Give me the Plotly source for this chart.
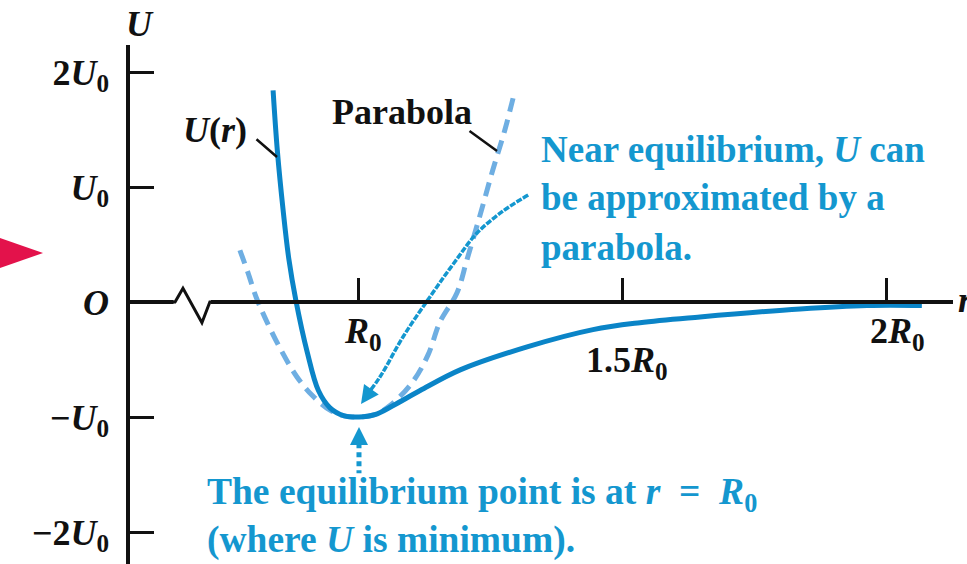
import plotly.graph_objects as go

# Potential energy curve U(r), in units of U0 versus R0
r_u = [0.837, 0.845, 0.856, 0.867, 0.880, 0.902, 0.923, 0.945, 0.972, 1.000,
       1.030, 1.065, 1.116, 1.192, 1.319, 1.444, 1.533, 1.647, 1.837, 1.964, 2.068]
u_u = [1.84, 1.32, 0.80, 0.37, 0.02, -0.44, -0.77, -0.92, -0.99, -1.00,
       -0.98, -0.90, -0.77, -0.59, -0.39, -0.24, -0.18, -0.13, -0.06, -0.03, -0.03]

# Parabola approximating U near the minimum
r_par = [0.774, 0.789, 0.805, 0.822, 0.850, 0.882, 0.913, 0.945, 0.972, 1.000,
         1.030, 1.059, 1.101, 1.131, 1.154, 1.186, 1.205, 1.230, 1.254, 1.277, 1.296]
u_par = [0.45, 0.26, 0.04, -0.14, -0.40, -0.65, -0.82, -0.94, -0.99, -1.00,
         -0.98, -0.90, -0.70, -0.46, -0.17, 0.08, 0.37, 0.76, 1.15, 1.50, 1.84]

# Callout path from the "near equilibrium" note to the minimum
r_call = [1.321, 1.273, 1.224, 1.182, 1.140, 1.084, 1.040, 1.008]
u_call = [0.93, 0.79, 0.60, 0.35, 0.08, -0.30, -0.65, -0.85]

# Dotted pointer below the minimum
r_ptr = [1.0, 1.0]
u_ptr = [-1.15, -1.49]

y_ticks = [-2, -1, 0, 1, 2]
y_labels = ["<b>−2<i>U</i><sub>0</sub></b>", "<b>−<i>U</i><sub>0</sub></b>", "<b><i>O</i></b>",
            "<b><i>U</i><sub>0</sub></b>", "<b>2<i>U</i><sub>0</sub></b>"]
x_ticks = [1.0, 1.5, 2.0]
x_labels = ["<b><i>R</i><sub>0</sub></b>", "<b>1.5<i>R</i><sub>0</sub></b>", "<b>2<i>R</i><sub>0</sub></b>"]
x_label_u = [-0.27, -0.53, -0.27]
x_label_r = [1.008, 1.509, 2.021]

CURVE = "#0a84c7"
PARAB = "#6eaee2"
NOTE = "#1497cf"
INK = "#111111"
SERIF = "Liberation Serif, Times New Roman, DejaVu Serif, serif"

W, H = 967, 564
x_range = [0.5617, 2.1271]
y_range = [-2.2783, 2.2348]
x_dom = [128 / W, 953 / W]
y_dom = [0.0, 1 - 45 / H]
x_axis_pos = y_dom[1] * (0 - y_range[0]) / (y_range[1] - y_range[0])

fig = go.Figure()

fig.add_trace(go.Scatter(x=r_par, y=u_par, mode="lines",
                         line=dict(color=PARAB, width=5, dash="14px,8px", shape="spline", smoothing=1),
                         hoverinfo="skip"))
fig.add_trace(go.Scatter(x=r_u, y=u_u, mode="lines",
                         line=dict(color=CURVE, width=5, shape="spline", smoothing=1),
                         hoverinfo="skip"))
fig.add_trace(go.Scatter(x=r_call, y=u_call, mode="lines",
                         line=dict(color=NOTE, width=3.5, dash="6px,1.5px", shape="spline", smoothing=1),
                         hoverinfo="skip"))
fig.add_trace(go.Scatter(x=r_ptr, y=u_ptr, mode="lines",
                         line=dict(color=NOTE, width=5, dash="5px,4px"),
                         hoverinfo="skip"))

annotations = []
# x tick labels
for xv, yv, t in zip(x_label_r, x_label_u, x_labels):
    annotations.append(dict(x=xv, y=yv, xref="x", yref="y", text=t, showarrow=False,
                            font=dict(family=SERIF, size=36, color=INK)))

# axis titles
annotations.append(dict(x=124 / W, y=1 - 2 / H, xref="paper", yref="paper", yanchor="top",
                        text="<b><i>U</i></b>", showarrow=False,
                        font=dict(family=SERIF, size=36, color=INK)))
annotations.append(dict(x=956 / W, y=1 - 300 / H, xref="paper", yref="paper", xanchor="left",
                        text="<b><i>r</i></b>", showarrow=False,
                        font=dict(family=SERIF, size=36, color=INK)))

# curve labels with leader lines
annotations.append(dict(x=0.7268, y=1.496, xref="x", yref="y", text="<b><i>U</i>(<i>r</i>)</b>",
                        showarrow=False, font=dict(family=SERIF, size=36, color=INK)))
annotations.append(dict(x=0.8444, y=1.261, xref="x", yref="y", text="", showarrow=True,
                        ax=-22, ay=-19, arrowhead=0, arrowwidth=2.5, arrowcolor=INK))
annotations.append(dict(x=1.0816, y=1.652, xref="x", yref="y", text="<b>Parabola</b>",
                        showarrow=False, font=dict(family=SERIF, size=36, color=INK)))
annotations.append(dict(x=1.2619, y=1.313, xref="x", yref="y", text="", showarrow=True,
                        ax=-29, ay=-21, arrowhead=0, arrowwidth=2.5, arrowcolor=INK))

# explanatory notes
note_lines = ["<b>Near equilibrium, <i>U</i> can</b>", "<b>be approximated by a</b>", "<b>parabola.</b>"]
note_u = [1.322, 0.913, 0.478]
for t, yv in zip(note_lines, note_u):
    annotations.append(dict(x=1.3416, y=yv, xref="x", yref="y", xanchor="left", text=t,
                            showarrow=False, font=dict(family=SERIF, size=37, color=NOTE)))
eq_lines = ["<b>The equilibrium point is at <i>r</i>  =  <i>R</i><sub>0</sub></b>",
            "<b>(where <i>U</i> is minimum).</b>"]
eq_u = [-1.67, -2.07]
for t, yv in zip(eq_lines, eq_u):
    annotations.append(dict(x=0.7078, y=yv, xref="x", yref="y", xanchor="left", text=t,
                            showarrow=False, font=dict(family=SERIF, size=37.5, color=NOTE)))

# arrowheads for the callouts
annotations.append(dict(x=1.0038, y=-0.887, xref="x", yref="y", text="", showarrow=True,
                        ax=12, ay=-17, arrowhead=2, arrowsize=1.2, arrowwidth=3, arrowcolor=NOTE))
annotations.append(dict(x=1.0, y=-1.087, xref="x", yref="y", text="", showarrow=True,
                        ax=0, ay=8, arrowhead=2, arrowsize=0.9, arrowwidth=4, arrowcolor=NOTE))

shapes = [
    # break in the r axis
    dict(type="rect", xref="x", yref="y", x0=0.648, x1=0.719, y0=-0.03, y1=0.03,
         fillcolor="white", line=dict(width=0), layer="above"),
    dict(type="path", xref="x", yref="y",
         path="M 0.646,0 L 0.651,0 L 0.666,0.12 L 0.702,-0.18 L 0.717,0 L 0.722,0",
         line=dict(color=INK, width=3), layer="above"),
    # margin marker
    dict(type="path", xref="paper", yref="paper",
         path="M 0,0.578 L 0.0445,0.5514 L 0,0.5248 Z",
         fillcolor="#e3124b", line=dict(width=0)),
]

fig.update_layout(
    width=W, height=H,
    margin=dict(l=0, r=0, t=0, b=0),
    paper_bgcolor="white", plot_bgcolor="white",
    showlegend=False,
    font=dict(family=SERIF),
    annotations=annotations,
    shapes=shapes,
    xaxis=dict(domain=x_dom, range=x_range, anchor="free", position=x_axis_pos,
               showline=True, linecolor=INK, linewidth=3.5,
               ticks="inside", ticklen=22, tickwidth=3, tickcolor=INK,
               tickvals=x_ticks, showticklabels=False,
               showgrid=False, zeroline=False, fixedrange=True),
    yaxis=dict(domain=y_dom, range=y_range, anchor="free", position=x_dom[0],
               showline=True, linecolor=INK, linewidth=3.5,
               ticks="inside", ticklen=24, tickwidth=3, tickcolor=INK,
               tickvals=y_ticks, ticktext=y_labels, ticklabelstandoff=10,
               tickfont=dict(family=SERIF, size=36, color=INK),
               showgrid=False, zeroline=False, fixedrange=True),
)

fig.write_html("out.html")
